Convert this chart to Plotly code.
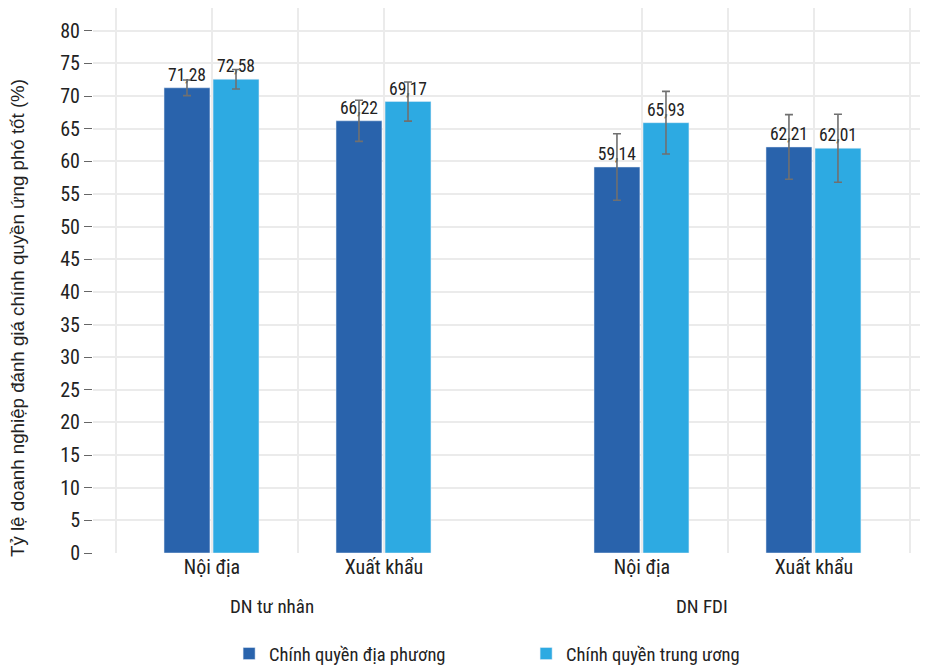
import plotly.graph_objects as go

# --- data ---
subcats = ["Nội địa", "Xuất khẩu", "Nội địa", "Xuất khẩu"]
groups = ["DN tư nhân", "DN FDI"]
series_names = ["Chính quyền địa phương", "Chính quyền trung ương"]
local_vals = [71.28, 66.22, 59.14, 62.21]
central_vals = [72.58, 69.17, 65.93, 62.01]
local_err = [1.2, 3.15, 5.1, 4.95]
central_err = [1.5, 3.0, 4.8, 5.2]
y_ticks = list(range(0, 85, 5))

# --- layout config ---
x_pos = [1, 2, 3.5, 4.5]
grid_x = [0.442, 1, 1.5, 2, 3.5, 4, 4.5, 5.058]
group_x = [1.35, 3.85]
colors = ["#2963AC", "#2DAAE2"]
tick_font = "Roboto Condensed, Liberation Sans Narrow, Roboto, Arial"
bar_w = 0.267
offsets = [-0.279, 0.006]

def fmt(v):
    return f"{v:.2f}".replace(".", ",")

fig = go.Figure()
for name, vals, errs, col, off in zip(series_names, [local_vals, central_vals],
                                      [local_err, central_err], colors, offsets):
    fig.add_trace(go.Bar(
        x=x_pos, y=vals, name=name, marker_color=col,
        width=bar_w, offset=off,
        text=[fmt(v) for v in vals], textposition="outside",
        textfont=dict(family=tick_font, size=17.5, color="#222222"),
        cliponaxis=False,
        error_y=dict(type="data", array=errs, visible=True, color="#707070", thickness=1.6, width=4),
    ))

ticktext = []
for g in grid_x:
    if g in x_pos:
        ticktext.append(subcats[x_pos.index(g)])
    else:
        ticktext.append("")

fig.update_layout(
    width=920, height=657,
    margin=dict(l=85, r=0, t=0, b=112),
    plot_bgcolor="white", paper_bgcolor="white",
    barmode="overlay",
    showlegend=True,
    legend=dict(orientation="h", x=0.163, xanchor="left", xref="paper",
                y=1 - 646 / 657, yanchor="middle", yref="container",
                entrywidth=252, entrywidthmode="pixels",
                font=dict(family=tick_font, size=18.5, color="#222222"),
                traceorder="normal"),
    xaxis=dict(range=[0.308, 5.163], tickmode="array", tickvals=grid_x, ticktext=ticktext,
               showgrid=True, gridcolor="#ebebeb", gridwidth=1.5, zeroline=False, ticks="",
               automargin=False,
               tickfont=dict(family=tick_font, size=20, color="#222222")),
    yaxis=dict(range=[0, 83.5], tickmode="array", tickvals=y_ticks,
               showgrid=True, gridcolor="#ebebeb", gridwidth=1.5, zeroline=False,
               ticks="outside", ticklen=8, tickcolor="#666666", tickwidth=1,
               automargin=False,
               tickfont=dict(family=tick_font, size=20, color="#222222")),
)

for gx, gname in zip(group_x, groups):
    fig.add_annotation(x=gx, y=-0.073, xref="x", yref="paper", text=gname, showarrow=False,
                       yanchor="top", font=dict(family=tick_font, size=19, color="#222222"))

fig.add_annotation(x=-0.091, y=0.5, xref="paper", yref="paper", xanchor="center", yanchor="middle",
                   text="Tỷ lệ doanh nghiệp đánh giá chính quyền ứng phó tốt (%)", textangle=-90,
                   showarrow=False, yshift=-37.5,
                   font=dict(family="Liberation Sans, Arial", size=18.7, color="#222222"))

fig.write_html("out.html")
